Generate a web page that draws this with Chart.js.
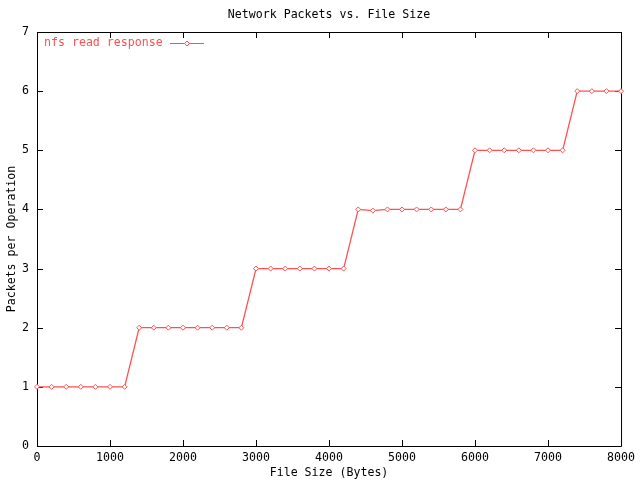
<!DOCTYPE html>
<html>
<head>
<meta charset="utf-8">
<script src="https://cdn.jsdelivr.net/npm/chart.js@4/dist/chart.umd.min.js"></script>
<style>
  html, body { margin: 0; padding: 0; background: #fff; }
  #wrap { width: 640px; height: 480px; }
</style>
</head>
<body>
<div id="wrap"><canvas id="chart" width="640" height="480"></canvas></div>
<script>
var fileSizes = [0, 200, 400, 600, 800, 1000, 1200, 1400, 1600, 1800, 2000, 2200, 2400, 2600, 2800,
    3000, 3200, 3400, 3600, 3800, 4000, 4200, 4400, 4600, 4800, 5000, 5200, 5400, 5600, 5800,
    6000, 6200, 6400, 6600, 6800, 7000, 7200, 7400, 7600, 7800, 8000];
var packets = [1, 1, 1, 1, 1, 1, 1, 2, 2, 2, 2, 2, 2, 2, 2,
    3, 3, 3, 3, 3, 3, 3, 4, 3.98, 4, 4, 4, 4, 4, 4,
    5, 5, 5, 5, 5, 5, 5, 6, 6, 6, 6];
var seriesName = 'nfs read response';
var chartTitle = 'Network Packets vs. File Size';
var xTitle = 'File Size (Bytes)';
var yTitle = 'Packets per Operation';

var FONT = '"DejaVu Sans Mono", "Liberation Mono", monospace';
var FSIZE = 11.6;
var RED = '#ff5050';

(function () {
    var points = fileSizes.map(function (x, i) { return { x: x, y: packets[i] }; });

    // frame, inward ticks, titles and legend, gnuplot style
    var gnuplotDecor = {
        id: 'gnuplotDecor',
        beforeDatasetsDraw: function (chart) {
            var ctx = chart.ctx, a = chart.chartArea;
            var xs = chart.scales.x, ys = chart.scales.y;
            ctx.save();
            ctx.strokeStyle = '#000';
            ctx.lineWidth = 1;
            ctx.beginPath();
            ctx.rect(a.left + 0.5, a.top + 0.5, a.right - a.left, a.bottom - a.top);
            ctx.stroke();
            ctx.beginPath();
            xs.ticks.forEach(function (t) {
                var px = Math.round(xs.getPixelForValue(t.value)) + 0.5;
                ctx.moveTo(px, a.bottom); ctx.lineTo(px, a.bottom - 6);
                ctx.moveTo(px, a.top); ctx.lineTo(px, a.top + 6);
            });
            ys.ticks.forEach(function (t) {
                var py = Math.round(ys.getPixelForValue(t.value)) + 0.5;
                ctx.moveTo(a.left, py); ctx.lineTo(a.left + 6, py);
                ctx.moveTo(a.right, py); ctx.lineTo(a.right - 6, py);
            });
            ctx.stroke();
            ctx.restore();
        },
        afterDraw: function (chart) {
            var ctx = chart.ctx, a = chart.chartArea;
            ctx.save();
            ctx.fillStyle = '#000';
            ctx.font = FSIZE + 'px ' + FONT;
            ctx.textAlign = 'center';
            ctx.textBaseline = 'middle';
            var cx = (a.left + a.right) / 2;
            ctx.fillText(chartTitle, cx, 15);
            ctx.fillText(xTitle, cx, 473);
            ctx.save();
            ctx.translate(12, (a.top + a.bottom) / 2);
            ctx.rotate(-Math.PI / 2);
            ctx.fillText(yTitle, 0, 0);
            ctx.restore();

            // legend inside top-left
            ctx.fillStyle = RED;
            ctx.textAlign = 'left';
            ctx.fillText(seriesName, 44, 43);
            ctx.strokeStyle = RED;
            ctx.beginPath();
            ctx.moveTo(170, 43.5); ctx.lineTo(204, 43.5);
            ctx.stroke();
            ctx.beginPath();
            ctx.moveTo(187, 41); ctx.lineTo(189.5, 43.5); ctx.lineTo(187, 46); ctx.lineTo(184.5, 43.5);
            ctx.closePath();
            ctx.fillStyle = '#fff';
            ctx.fill();
            ctx.stroke();
            ctx.restore();
        }
    };

    new Chart(document.getElementById('chart').getContext('2d'), {
        type: 'line',
        data: {
            datasets: [{
                label: seriesName,
                data: points,
                borderColor: RED,
                borderWidth: 1.3,
                tension: 0,
                clip: false,
                pointStyle: 'rectRot',
                pointRadius: 2.5,
                pointBorderWidth: 1,
                pointBorderColor: RED,
                pointBackgroundColor: '#fff'
            }]
        },
        options: {
            responsive: false,
            animation: false,
            layout: { padding: { top: 32, right: 18, bottom: 0, left: 0 } },
            plugins: {
                legend: { display: false },
                title: { display: false },
                tooltip: { enabled: false }
            },
            scales: {
                x: {
                    type: 'linear',
                    min: 0, max: 8000,
                    border: { display: false },
                    grid: { display: false, drawTicks: false },
                    ticks: { stepSize: 1000, padding: 5, color: '#000', maxRotation: 0,
                        font: { family: FONT, size: FSIZE },
                        callback: function (v) { return String(v); } },
                    afterFit: function (s) { s.height = 34; }
                },
                y: {
                    min: 0, max: 7,
                    border: { display: false },
                    grid: { display: false, drawTicks: false },
                    ticks: { stepSize: 1, padding: 8, color: '#000',
                        font: { family: FONT, size: FSIZE },
                        callback: function (v) { return String(v); } },
                    afterFit: function (s) { s.width = 37; }
                }
            }
        },
        plugins: [gnuplotDecor]
    });
})();
</script>
</body>
</html>
